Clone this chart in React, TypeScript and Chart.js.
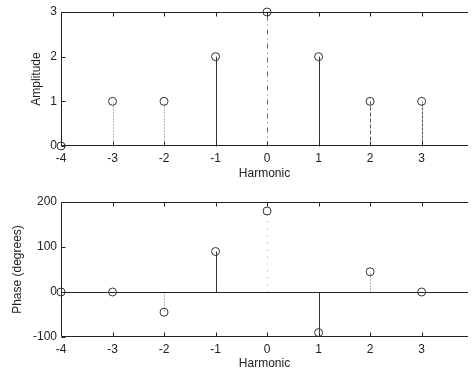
import { useEffect, useRef } from 'react';
import { Chart, registerables } from 'chart.js';

Chart.register(...registerables);

const harmonics = [-4, -3, -2, -1, 0, 1, 2, 3];
const amplitude = [0, 1, 1, 2, 3, 2, 1, 1];
const phaseDeg = [0, 0, -45, 90, 180, -90, 45, 0];
const xTickValues = [-4, -3, -2, -1, 0, 1, 2, 3];
const ampTickValues = [0, 1, 2, 3];
const phaseTickValues = [-100, 0, 100, 200];
const ampStemColors = ['#888', '#777', '#777', '#333', '#666', '#333', '#555', '#555'];
const ampStemDash = [[], [1, 2], [1, 2], [], [5, 4, 1, 4], [], [4, 2], [3, 1]];
const phaseStemColors = ['#888', '#888', '#777', '#333', '#999', '#333', '#666', '#888'];
const phaseStemDash = [[], [], [1, 2], [], [1, 6], [], [1, 2], []];

const FONT = "'Liberation Sans', Arial, Helvetica, sans-serif";
const INK = '#222';

const framePlugin = {
  id: 'frame',
  beforeDatasetsDraw(chart: any, _args: any, opts: any) {
    const { ctx, chartArea: a, scales } = chart;
    const x = scales.x;
    const y = scales.y;
    const L = Math.round(a.left) + 0.5;
    const T = Math.round(a.top) + 0.5;
    const B = Math.round(a.bottom) - 0.5;
    const R = a.right;
    ctx.save();
    ctx.lineWidth = 1;
    // stems, from the data through the scales
    const vals: number[] = opts.values || [];
    const cols: string[] = opts.stemColors || [];
    const dashes: number[][] = opts.stemDash || [];
    const y0 = Math.round(y.getPixelForValue(0)) + 0.5;
    harmonics.forEach((h, i) => {
      const px = Math.round(x.getPixelForValue(h)) + 0.5;
      const py = y.getPixelForValue(vals[i]);
      ctx.beginPath();
      ctx.setLineDash(dashes[i] || []);
      ctx.strokeStyle = cols[i] || '#444';
      ctx.moveTo(px, y0);
      ctx.lineTo(px, py);
      ctx.stroke();
    });
    ctx.setLineDash([]);
    ctx.strokeStyle = INK;
    ctx.beginPath();
    ctx.moveTo(R, T);
    ctx.lineTo(L, T);
    ctx.lineTo(L, B);
    ctx.lineTo(R, B);
    x.ticks.forEach((t: any) => {
      const px = Math.round(x.getPixelForValue(t.value)) + 0.5;
      ctx.moveTo(px, T);
      ctx.lineTo(px, T + 4);
      ctx.moveTo(px, B);
      ctx.lineTo(px, B - 4);
    });
    y.ticks.forEach((t: any) => {
      const py = Math.round(y.getPixelForValue(t.value)) + 0.5;
      ctx.moveTo(L, py);
      ctx.lineTo(L + 4, py);
    });
    if (opts && opts.baseline) {
      ctx.moveTo(L, y0);
      ctx.lineTo(R, y0);
    }
    ctx.stroke();
    ctx.restore();
  },
};

function makeConfig(
  values: number[],
  stemColors: string[],
  stemDash: number[][],
  yMin: number,
  yMax: number,
  yTicks: number[],
  yTitle: string,
  padTop: number,
  xAxisHeight: number,
  yTitlePad: number,
  xTitlePad: number,
  tickPad: number,
  baseline: boolean
): any {
  const pts = harmonics.map((h, i) => ({ x: h, y: values[i] }));
  return {
    type: 'scatter',
    data: {
      datasets: [
        {
          data: pts,
          showLine: false,
          pointRadius: 4,
          pointBorderWidth: 1,
          pointBorderColor: '#333',
          pointBackgroundColor: 'rgba(0,0,0,0)',
          clip: false,
        },
      ],
    },
    options: {
      responsive: false,
      animation: false,
      events: [],
      layout: { padding: { top: padTop, left: 0, right: 0, bottom: 0 } },
      plugins: {
        legend: { display: false },
        tooltip: { enabled: false },
        frame: { baseline, values, stemColors, stemDash },
      },
      scales: {
        x: {
          type: 'linear',
          min: -4,
          max: 3.9,
          offset: false,
          grid: { display: false, drawTicks: false },
          border: { display: false },
          afterBuildTicks: (s: any) => {
            s.ticks = xTickValues.map((v) => ({ value: v }));
          },
          afterFit: (s: any) => {
            s.height = xAxisHeight;
          },
          ticks: {
            padding: tickPad,
            color: INK,
            font: { family: FONT, size: 12 },
            maxRotation: 0,
            autoSkip: false,
            callback: (v: any) => String(v),
          },
          title: {
            display: true,
            text: 'Harmonic',
            color: INK,
            font: { family: FONT, size: 12 },
            padding: { top: 0, bottom: xTitlePad },
          },
        },
        y: {
          type: 'linear',
          min: yMin,
          max: yMax,
          grid: { display: false, drawTicks: false },
          border: { display: false },
          afterBuildTicks: (s: any) => {
            s.ticks = yTicks.map((v) => ({ value: v }));
          },
          afterFit: (s: any) => {
            s.width = 61;
          },
          ticks: {
            padding: 4,
            color: INK,
            font: { family: FONT, size: 12 },
            callback: (v: any) => String(v),
          },
          title: {
            display: true,
            text: yTitle,
            color: INK,
            font: { family: FONT, size: 12 },
            padding: { top: yTitlePad, bottom: 0 },
          },
        },
      },
    },
    plugins: [framePlugin],
  };
}

export default function App() {
  const topRef = useRef<HTMLCanvasElement | null>(null);
  const botRef = useRef<HTMLCanvasElement | null>(null);

  useEffect(() => {
    const c1 = new Chart(
      topRef.current as HTMLCanvasElement,
      makeConfig(amplitude, ampStemColors, ampStemDash, 0, 3, ampTickValues, 'Amplitude', 12, 39, 29, 4, 5, false)
    );
    const c2 = new Chart(
      botRef.current as HTMLCanvasElement,
      makeConfig(phaseDeg, phaseStemColors, phaseStemDash, -100, 200, phaseTickValues, 'Phase (degrees)', 17, 35, 10, 1, 5, true)
    );
    return () => {
      c1.destroy();
      c2.destroy();
    };
  }, []);

  return (
    <div
      style={{
        position: 'fixed',
        left: 0,
        top: 0,
        width: 473,
        height: 372,
        background: '#fff',
        overflow: 'hidden',
      }}
    >
      <canvas ref={topRef} width={473} height={185} style={{ display: 'block' }} />
      <canvas ref={botRef} width={473} height={187} style={{ display: 'block' }} />
    </div>
  );
}
